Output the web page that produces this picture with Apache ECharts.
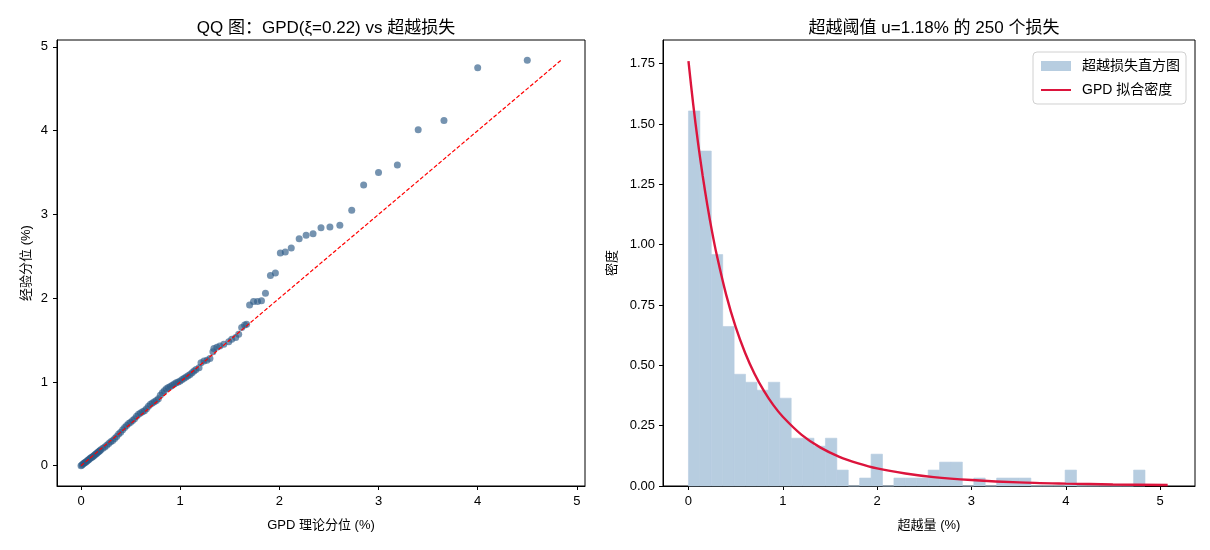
<!DOCTYPE html>
<html>
<head>
<meta charset="utf-8">
<script src="https://cdn.jsdelivr.net/npm/echarts@6/dist/echarts.min.js"></script>
<style>
  html, body { margin: 0; padding: 0; background: #fff; }
  #chart { width: 1210px; height: 550px; }
</style>
</head>
<body>
<div id="chart"></div>
<script>
// QQ 图数据：GPD 理论分位 vs 经验分位（%）
const qqTheory = [
  0.00, 0.01, 0.02, 0.03, 0.04, 0.05, 0.06, 0.07, 0.08, 0.09, 0.10, 0.11, 0.12, 0.13, 0.14,
  0.15, 0.16, 0.17, 0.18, 0.19, 0.20, 0.22, 0.24, 0.26, 0.28, 0.30, 0.32, 0.34, 0.36, 0.38,
  0.40, 0.42, 0.44, 0.46, 0.48, 0.50, 0.52, 0.54, 0.56, 0.58, 0.60, 0.62, 0.64, 0.66, 0.68,
  0.70, 0.72, 0.74, 0.76, 0.78, 0.80, 0.82, 0.84, 0.86, 0.88, 0.90, 0.92, 0.94, 0.96, 0.98,
  1.00, 1.02, 1.04, 1.06, 1.08, 1.10, 1.12, 1.14, 1.16, 1.19, 1.21, 1.24, 1.27, 1.30, 1.33,
  1.34, 1.37, 1.40, 1.44, 1.49, 1.52, 1.56, 1.59, 1.62, 1.65, 1.67,
  1.70, 1.74, 1.78, 1.82, 1.86, 1.91, 1.96, 2.01, 2.06, 2.12, 2.20, 2.27, 2.34, 2.42, 2.51,
  2.61, 2.73, 2.85, 3.00, 3.19, 3.40, 3.66, 4.00, 4.50
];
const qqEmpirical = [
  0.00, 0.01, 0.02, 0.03, 0.04, 0.045, 0.055, 0.065, 0.075, 0.085, 0.095, 0.10, 0.11, 0.12, 0.13,
  0.14, 0.15, 0.16, 0.17, 0.18, 0.19, 0.21, 0.225, 0.245, 0.265, 0.285, 0.30, 0.325, 0.35, 0.38,
  0.40, 0.43, 0.455, 0.48, 0.505, 0.52, 0.54, 0.56, 0.59, 0.615, 0.63, 0.645, 0.655, 0.68, 0.71,
  0.735, 0.75, 0.765, 0.78, 0.80, 0.84, 0.87, 0.895, 0.92, 0.935, 0.945, 0.96, 0.975, 0.99, 1.00,
  1.01, 1.03, 1.045, 1.06, 1.075, 1.09, 1.11, 1.13, 1.15, 1.17, 1.23, 1.25, 1.26, 1.28, 1.36,
  1.40, 1.415, 1.43, 1.45, 1.48, 1.51, 1.53, 1.57, 1.65, 1.68, 1.69,
  1.92, 1.96, 1.96, 1.97, 2.06, 2.27, 2.30, 2.54, 2.55, 2.60, 2.71, 2.75, 2.77, 2.84, 2.85,
  2.87, 3.05, 3.35, 3.50, 3.59, 4.01, 4.12, 4.75, 4.84
];
const refLine = [0, 4.84];

// 直方图：40 个分箱，密度
const binWidth = 0.121;
const histDensity = [
  1.554, 1.388, 0.959, 0.661, 0.463, 0.430, 0.397, 0.430, 0.364, 0.198,
  0.198, 0.165, 0.198, 0.066, 0.000, 0.033, 0.132, 0.000, 0.033, 0.033,
  0.033, 0.066, 0.099, 0.099, 0.000, 0.033, 0.000, 0.033, 0.033, 0.033,
  0.000, 0.000, 0.000, 0.066, 0.000, 0.000, 0.000, 0.000, 0.000, 0.066
];

// GPD 拟合密度曲线
const pdfX = [0, 0.05, 0.1, 0.15, 0.2, 0.25, 0.3, 0.4, 0.5, 0.6, 0.7, 0.8, 0.9, 1.0,
  1.2, 1.4, 1.6, 1.8, 2.0, 2.3, 2.6, 3.0, 3.5, 4.0, 4.5, 5.08];
const pdfY = [1.760, 1.582, 1.426, 1.287, 1.164, 1.054, 0.957, 0.792, 0.659, 0.552, 0.465,
  0.394, 0.335, 0.287, 0.212, 0.159, 0.121, 0.094, 0.073, 0.052, 0.037, 0.025, 0.015,
  0.010, 0.0065, 0.0042];

const font = '"Liberation Sans", "Noto Sans CJK SC", sans-serif';
const blue = '#b7cde0';
const red = '#dc143c';

const qqData = qqTheory.map((x, i) => [x, qqEmpirical[i]]);
const histData = histDensity.map((d, i) => [i * binWidth, (i + 1) * binWidth, d]);
const pdfData = pdfX.map((x, i) => [x, pdfY[i]]);

function axisX(gridIndex, min, max, name) {
    return {
        type: 'value', gridIndex: gridIndex, min: min, max: max,
        name: name, nameLocation: 'middle', nameGap: 33,
        nameTextStyle: { color: '#000', fontSize: 13, fontFamily: font },
        splitLine: { show: false },
        axisLine: { onZero: false, lineStyle: { color: '#000' } },
        axisTick: { length: 4, lineStyle: { color: '#000' } },
        axisLabel: { color: '#000', fontSize: 13, fontFamily: font, margin: 9,
            showMinLabel: false, showMaxLabel: false },
    };
}

const chart = echarts.init(document.getElementById('chart'));
chart.setOption({
    backgroundColor: '#fff',
    animation: false,
    title: [
        { text: 'QQ 图：GPD(ξ=0.22) vs 超越损失', left: 321, top: 15, textAlign: 'center',
          textStyle: { fontSize: 17, fontWeight: 'normal', color: '#000', fontFamily: font } },
        { text: '超越阈值 u=1.18% 的 250 个损失', left: 929, top: 15, textAlign: 'center',
          textStyle: { fontSize: 17, fontWeight: 'normal', color: '#000', fontFamily: font } },
    ],
    legend: {
        orient: 'vertical', right: 24, top: 52,
        data: [
            { name: '超越损失直方图', icon: 'rect' },
            { name: 'GPD 拟合密度', itemStyle: { opacity: 0 } },
        ],
        itemWidth: 30, itemHeight: 10, itemGap: 10,
        padding: [7, 6, 7, 7],
        borderColor: '#d0d0d0', borderWidth: 1, borderRadius: 4,
        backgroundColor: 'rgba(255,255,255,0.8)',
        textStyle: { fontSize: 14, color: '#000', fontFamily: font, padding: [0, 0, 0, 6] },
    },
    grid: [
        { left: 57, top: 40, width: 528, height: 446, show: true, borderColor: '#000', borderWidth: 1 },
        { left: 663, top: 40, width: 532, height: 446, show: true, borderColor: '#000', borderWidth: 1 },
    ],
    xAxis: [
        axisX(0, -0.242, 5.082, 'GPD 理论分位 (%)'),
        axisX(1, -0.27, 5.37, '超越量 (%)'),
    ],
    yAxis: [
        {
            type: 'value', gridIndex: 0, min: -0.242, max: 5.082,
            name: '经验分位 (%)', nameLocation: 'middle', nameGap: 24,
            nameTextStyle: { color: '#000', fontSize: 13, fontFamily: font },
            splitLine: { show: false },
            axisLine: { onZero: false, lineStyle: { color: '#000' } },
            axisTick: { length: 4, lineStyle: { color: '#000' } },
            axisLabel: { color: '#000', fontSize: 13, fontFamily: font, margin: 9,
                showMinLabel: false, showMaxLabel: false },
        },
        {
            type: 'value', gridIndex: 1, min: 0, max: 1.848, interval: 0.25,
            name: '密度', nameLocation: 'middle', nameGap: 44,
            nameTextStyle: { color: '#000', fontSize: 13, fontFamily: font },
            splitLine: { show: false },
            axisLine: { onZero: false, lineStyle: { color: '#000' } },
            axisTick: { length: 4, lineStyle: { color: '#000' } },
            axisLabel: { color: '#000', fontSize: 13, fontFamily: font, margin: 8,
                showMaxLabel: false, formatter: v => v.toFixed(2) },
        },
    ],
    series: [
        {
            name: 'QQ', type: 'scatter', xAxisIndex: 0, yAxisIndex: 0,
            data: qqData, symbolSize: 7,
            itemStyle: { color: 'rgba(45,90,135,0.82)' },
            z: 2,
        },
        {
            name: '参考线', type: 'line', xAxisIndex: 0, yAxisIndex: 0,
            data: [[refLine[0], refLine[0]], [refLine[1], refLine[1]]],
            symbol: 'none',
            lineStyle: { color: '#ff0000', width: 1.2, type: [4, 2] },
            z: 3,
        },
        {
            name: '超越损失直方图', type: 'custom', xAxisIndex: 1, yAxisIndex: 1,
            data: histData,
            itemStyle: { color: blue },
            encode: { x: [0, 1], y: 2 },
            renderItem: function (params, api) {
                const p0 = api.coord([api.value(0), api.value(2)]);
                const p1 = api.coord([api.value(1), 0]);
                return {
                    type: 'rect',
                    shape: { x: p0[0], y: p0[1], width: p1[0] - p0[0], height: p1[1] - p0[1] },
                    style: { fill: blue, stroke: blue, lineWidth: 0.6 },
                };
            },
            z: 1,
        },
        {
            name: 'GPD 拟合密度', type: 'line', xAxisIndex: 1, yAxisIndex: 1,
            data: pdfData, smooth: 0.3, symbol: 'none',
            itemStyle: { color: red },
            lineStyle: { color: red, width: 2.4 },
            z: 3,
        },
    ],
});
</script>
</body>
</html>
